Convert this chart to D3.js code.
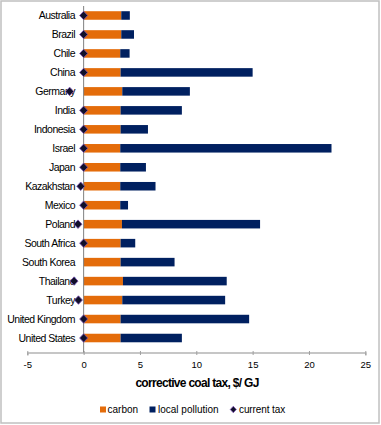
<!DOCTYPE html>
<html>
<head>
<meta charset="utf-8">
<script src="https://cdn.jsdelivr.net/npm/d3@7"></script>
<style>
  html, body { margin: 0; padding: 0; background: #fff; }
  svg { display: block; font-family: "Liberation Sans", Arial, sans-serif; }
</style>
</head>
<body>
<svg id="chart" width="381" height="425"></svg>
<script>
const countries = ["Australia","Brazil","Chile","China","Germany","India","Indonesia","Israel","Japan","Kazakhstan","Mexico","Poland","South Africa","South Korea","Thailand","Turkey","United Kingdom","United States"];
const carbon = [3.34,3.34,3.25,3.28,3.43,3.28,3.28,3.25,3.25,3.25,3.25,3.4,3.28,3.28,3.49,3.43,3.28,3.28];
const localPollution = [0.76,1.13,0.83,11.72,6.0,5.44,2.43,18.75,2.28,3.13,0.69,12.26,1.3,4.79,9.21,9.13,11.41,5.44];
const currentTax = [0,0,0,0,-1.24,0,0,0,0,-0.26,0,-0.5,0,null,-0.85,-0.46,0,0];
const xTicks = [-5,0,5,10,15,20,25];
const seriesNames = ["carbon","local pollution","current tax"];
const colors = {carbon: "#E46C0A", local: "#002060", diamondFill: "#10102a", diamondStroke: "#7a4fb0"};

const svg = d3.select("#chart");

// outer border
svg.append("rect").attr("x",1).attr("y",1).attr("width",378).attr("height",422)
  .attr("fill","none").attr("stroke","#c0c0c0").attr("stroke-width",1.5);

const x = d3.scaleLinear().domain([-5,25]).range([27.3,365.3]);
const y = d3.scaleBand().domain(countries).range([6,347.5]).paddingInner(0.55).paddingOuter(0.275);

const data = countries.map((c,i)=>({c, carbon: carbon[i], local: localPollution[i], tax: currentTax[i]}));

// x axis
const axisY = 352.5;
const xAxis = svg.append("g").attr("transform",`translate(0,${axisY})`)
  .call(d3.axisBottom(x).tickValues(xTicks).tickSize(3).tickFormat(d=>String(d)));
xAxis.select(".domain").attr("stroke","#b4b4b4").attr("stroke-width",1.5);
xAxis.selectAll(".tick line").attr("stroke","#a0a0a0").attr("y1",-1.5).attr("y2",2.5);
xAxis.selectAll(".tick text").attr("fill","#000").attr("font-size","9.5px")
  .attr("font-family","'Liberation Sans', Arial, sans-serif").attr("y",9).attr("dy","0.71em");

// bars
const g = svg.append("g");
g.selectAll("rect.carbon").data(data).join("rect").attr("class","carbon")
  .attr("x", d=>x(0)).attr("y", d=>y(d.c)).attr("height", y.bandwidth())
  .attr("width", d=>x(d.carbon)-x(0)).attr("fill", colors.carbon);
g.selectAll("rect.local").data(data).join("rect").attr("class","local")
  .attr("x", d=>x(d.carbon)).attr("y", d=>y(d.c)).attr("height", y.bandwidth())
  .attr("width", d=>x(d.carbon+d.local)-x(d.carbon)).attr("fill", colors.local);

// y axis line at zero
svg.append("line").attr("x1",x(0)).attr("x2",x(0)).attr("y1",6).attr("y2",axisY)
  .attr("stroke","#808080").attr("stroke-width",1);

// category labels
svg.append("g").selectAll("text").data(data).join("text")
  .attr("x",75).attr("y",d=>y(d.c)+y.bandwidth()/2).attr("dy","0.35em")
  .attr("text-anchor","end").attr("font-size","10.5px").attr("letter-spacing","-0.5px")
  .attr("fill","#000").text(d=>d.c);

// diamonds
function diamondPath(w,h){ return `M0,${-h/2}L${w/2},0L0,${h/2}L${-w/2},0Z`; }
svg.append("g").selectAll("path").data(data.filter(d=>d.tax!==null)).join("path")
  .attr("d", diamondPath(8,8.5))
  .attr("transform", d=>`translate(${x(d.tax)},${y(d.c)+y.bandwidth()/2})`)
  .attr("fill", colors.diamondFill).attr("stroke", colors.diamondStroke).attr("stroke-width",0.8);

// axis title
svg.append("text").attr("x",197).attr("y",387).attr("text-anchor","middle")
  .attr("font-size","12px").attr("font-weight","bold").attr("letter-spacing","-0.7px")
  .attr("fill","#000").text("corrective coal tax, $/ GJ");

// legend
const lg = svg.append("g");
lg.append("rect").attr("x",100).attr("y",406.5).attr("width",6).attr("height",6).attr("fill",colors.carbon);
lg.append("text").attr("x",107.5).attr("y",412.5).attr("font-size","10px").attr("fill","#000").text(seriesNames[0]);
lg.append("rect").attr("x",149.5).attr("y",406.5).attr("width",6).attr("height",6).attr("fill",colors.local);
lg.append("text").attr("x",158).attr("y",412.5).attr("font-size","10px").attr("fill","#000").text(seriesNames[1]);
lg.append("path").attr("d", diamondPath(6,6.5))
  .attr("transform","translate(233.3,409.5)")
  .attr("fill",colors.diamondFill).attr("stroke",colors.diamondStroke).attr("stroke-width",0.8);
lg.append("text").attr("x",239).attr("y",412.5).attr("font-size","10px").attr("letter-spacing","-0.1px").attr("fill","#000").text(seriesNames[2]);
</script>
</body>
</html>
